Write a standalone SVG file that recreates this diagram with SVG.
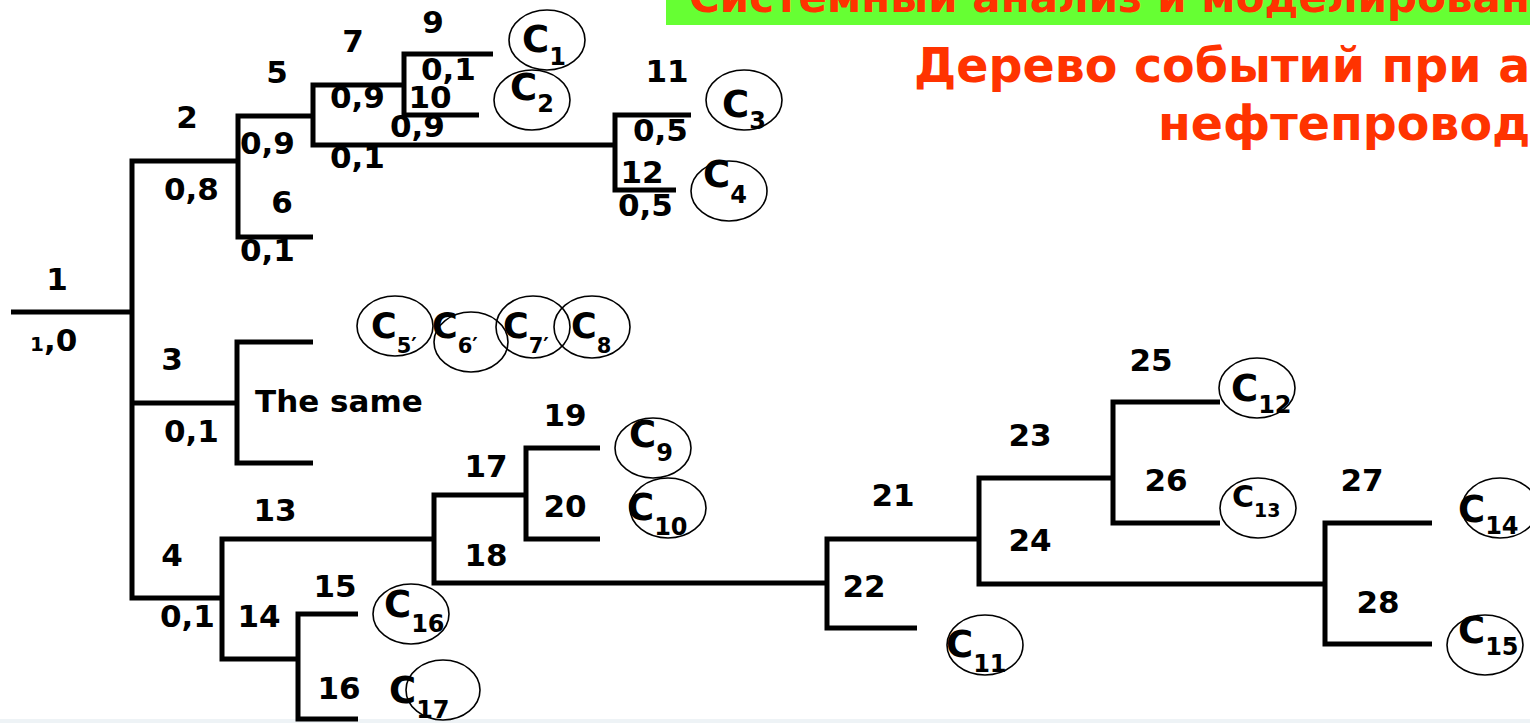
<svg xmlns="http://www.w3.org/2000/svg" width="1530" height="723" viewBox="0 0 1530 723">
<style>
text{font-family:"DejaVu Sans","Liberation Sans",sans-serif;font-weight:bold;fill:#000}
.n{font-size:31px;text-anchor:middle}
.p{font-size:31px}
.c{font-size:37px}
.s{font-size:24px}
.c2{font-size:35px}
.s2{font-size:21px}
.t{fill:#ff3300;font-size:47.5px}
.hd{fill:#ff3300;font-size:42px}
.e{fill:none;stroke:#000;stroke-width:1.6}
.l{fill:none;stroke:#000;stroke-width:5;stroke-linejoin:miter;stroke-linecap:butt}
</style>
<rect width="1530" height="723" fill="#fff"/>
<rect x="0" y="719" width="1530" height="4" fill="#eef3f6"/>
<g id="header">
<rect x="666" y="0" width="864" height="25" fill="#66ff33"/>
<text class="hd" x="689" y="12">Системный анализ и моделирован</text>
</g>
<g id="title">
<text class="t" x="914" y="82">Дерево событий при а</text>
<text class="t" x="1158" y="140">нефтепровод</text>
</g>
<g id="connectors">
<path class="l" d="M11,312 H132"/>
<path class="l" d="M237,161 H132 V598 H222 M132,403 H237"/>
<path class="l" d="M313,116 H238 V237 H313"/>
<path class="l" d="M403,85 H313 V145 H615"/>
<path class="l" d="M493,54 H404 V115 H479"/>
<path class="l" d="M691,115 H615 V190 H676"/>
<path class="l" d="M313,342 H237 V463 H313"/>
<path class="l" d="M434,539 H222 V659 H298"/>
<path class="l" d="M358,614 H298 V719 H358"/>
<path class="l" d="M526,495 H434 V583 H827"/>
<path class="l" d="M600,448 H526 V539 H600"/>
<path class="l" d="M979,539 H827 V628 H917"/>
<path class="l" d="M1113,478 H979 V584 H1325"/>
<path class="l" d="M1220,402 H1113 V523 H1220"/>
<path class="l" d="M1432,523 H1325 V644 H1432"/>
</g>
<g id="node1"><text class="n" x="57" y="290">1</text><text class="p" x="30" y="351"><tspan font-size="20">1</tspan>,0</text></g>
<g id="node2"><text class="n" x="187" y="128">2</text><text class="p" x="164" y="200">0,8</text></g>
<g id="node3"><text class="n" x="172" y="370">3</text><text class="p" x="164" y="442">0,1</text><text class="p" x="255" y="412">The same</text></g>
<g id="node4"><text class="n" x="172" y="566">4</text><text class="p" x="160" y="627">0,1</text></g>
<g id="node5"><text class="n" x="277" y="83">5</text><text class="p" x="240" y="154">0,9</text></g>
<g id="node6"><text class="n" x="282" y="213">6</text><text class="p" x="240" y="261">0,1</text></g>
<g id="node7"><text class="n" x="353" y="52">7</text><text class="p" x="330" y="108">0,9</text><text class="p" x="330" y="168">0,1</text></g>
<g id="node9"><text class="n" x="433" y="33">9</text><text class="p" x="421" y="80">0,1</text></g>
<g id="node10"><text class="n" x="430" y="108">10</text><text class="p" x="390" y="137">0,9</text></g>
<g id="node11"><text class="n" x="667" y="82">11</text><text class="p" x="633" y="141">0,5</text></g>
<g id="node12"><text class="n" x="642" y="183">12</text><text class="p" x="618" y="216">0,5</text></g>
<g id="node13"><text class="n" x="275" y="521">13</text></g>
<g id="node14"><text class="n" x="259" y="627">14</text></g>
<g id="node15"><text class="n" x="335" y="597">15</text></g>
<g id="node16"><text class="n" x="339" y="699">16</text></g>
<g id="node17"><text class="n" x="486" y="477">17</text></g>
<g id="node18"><text class="n" x="486" y="566">18</text></g>
<g id="node19"><text class="n" x="565" y="426">19</text></g>
<g id="node20"><text class="n" x="565" y="517">20</text></g>
<g id="node21"><text class="n" x="893" y="506">21</text></g>
<g id="node22"><text class="n" x="864" y="597">22</text></g>
<g id="node23"><text class="n" x="1030" y="446">23</text></g>
<g id="node24"><text class="n" x="1030" y="551">24</text></g>
<g id="node25"><text class="n" x="1151" y="371">25</text></g>
<g id="node26"><text class="n" x="1166" y="491">26</text></g>
<g id="node27"><text class="n" x="1362" y="491">27</text></g>
<g id="node28"><text class="n" x="1378" y="613">28</text></g>
<g id="C1"><ellipse class="e" cx="547" cy="40" rx="38" ry="30"/><text class="c" x="522" y="52">C<tspan class="s" dy="13">1</tspan></text></g>
<g id="C2"><ellipse class="e" cx="532" cy="100" rx="38" ry="30"/><text class="c" x="510" y="100">C<tspan class="s" dy="12">2</tspan></text></g>
<g id="C3"><ellipse class="e" cx="744" cy="100" rx="38" ry="30"/><text class="c" x="722" y="117">C<tspan class="s" dy="12">3</tspan></text></g>
<g id="C4"><ellipse class="e" cx="729" cy="191" rx="38" ry="30"/><text class="c" x="703" y="187">C<tspan class="s" dy="16">4</tspan></text></g>
<g id="C5"><ellipse class="e" cx="395" cy="326" rx="38" ry="30"/><text class="c2" x="371" y="338">C<tspan class="s2" dy="15">5′</tspan></text></g>
<g id="C6"><ellipse class="e" cx="471" cy="342" rx="37" ry="30"/><text class="c2" x="432" y="338">C<tspan class="s2" dy="15">6′</tspan></text></g>
<g id="C7"><ellipse class="e" cx="533" cy="327" rx="37" ry="31"/><text class="c2" x="503" y="338">C<tspan class="s2" dy="15">7′</tspan></text></g>
<g id="C8"><ellipse class="e" cx="592" cy="327" rx="38" ry="31"/><text class="c2" x="571" y="338">C<tspan class="s2" dy="15">8</tspan></text></g>
<g id="C9"><ellipse class="e" cx="653" cy="448" rx="38" ry="30"/><text class="c" x="629" y="447">C<tspan class="s" dy="14">9</tspan></text></g>
<g id="C10"><ellipse class="e" cx="668" cy="508" rx="38" ry="30"/><text class="c" x="627" y="520">C<tspan class="s" dy="15">10</tspan></text></g>
<g id="C11"><ellipse class="e" cx="985" cy="645" rx="38" ry="30"/><text class="c" x="946" y="657">C<tspan class="s" dy="15">11</tspan></text></g>
<g id="C12"><ellipse class="e" cx="1257" cy="388" rx="38" ry="30"/><text class="c" x="1231" y="401">C<tspan class="s" dy="12">12</tspan></text></g>
<g id="C13"><ellipse class="e" cx="1258" cy="508" rx="38" ry="30"/><text x="1232" y="507" style="font-size:30px">C<tspan style="font-size:19px" dy="10">13</tspan></text></g>
<g id="C14"><ellipse class="e" cx="1500" cy="508" rx="38" ry="30"/><text class="c" x="1458" y="522">C<tspan class="s" dy="12">14</tspan></text></g>
<g id="C15"><ellipse class="e" cx="1485" cy="645" rx="38" ry="30"/><text class="c" x="1458" y="643">C<tspan class="s" dy="12">15</tspan></text></g>
<g id="C16"><ellipse class="e" cx="411" cy="614" rx="38" ry="30"/><text class="c" x="384" y="617">C<tspan class="s" dy="15">16</tspan></text></g>
<g id="C17"><ellipse class="e" cx="443" cy="690" rx="37" ry="30"/><text class="c" x="389" y="703">C<tspan class="s" dy="15">17</tspan></text></g>
</svg>
